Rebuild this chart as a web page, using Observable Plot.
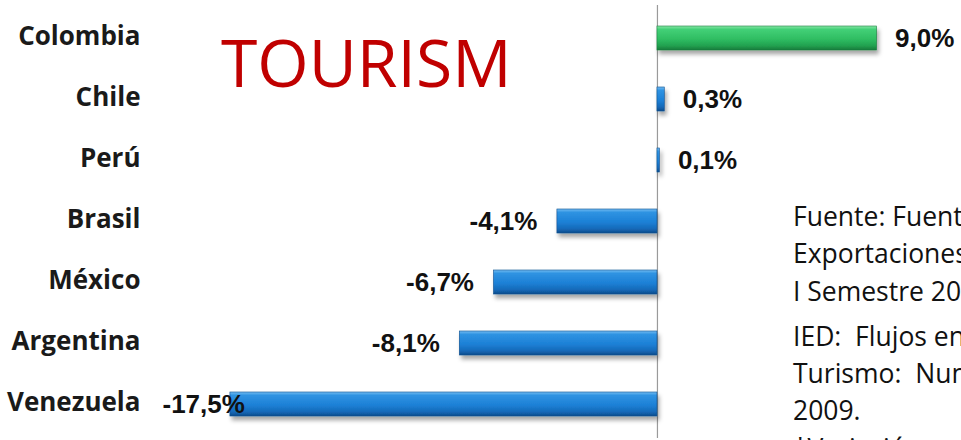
<!DOCTYPE html>
<html>
<head>
<meta charset="utf-8">
<script src="https://cdn.jsdelivr.net/npm/d3@7"></script>
<script src="https://cdn.jsdelivr.net/npm/@observablehq/plot@0.6"></script>
<style>
  html, body { margin: 0; padding: 0; background: #fff; }
  #wrap { position: relative; width: 961px; height: 440px; overflow: hidden; }
  #title { position: absolute; left: 221px; top: 28px; font-family: "Open Sans", sans-serif; font-size: 66px; line-height: 66px; color: #c00000; white-space: nowrap; }
  #notes { position: absolute; left: 793px; top: 198px; font-family: "Open Sans", sans-serif; font-size: 26.5px; line-height: 37.3px; color: #111; white-space: nowrap; }
  #notes .gap { margin-top: 8px; }
</style>
</head>
<body>
<div id="wrap">
  <div id="chart"></div>
  <div id="title">TOURISM</div>
  <div id="notes">
    <div>Fuente: Fuentes oficiales</div>
    <div>Exportaciones</div>
    <div>I Semestre 2009</div>
    <div class="gap">IED:&nbsp; Flujos entrantes</div>
    <div>Turismo:&nbsp; Numero de turistas</div>
    <div>2009.</div>
    <div>*Variación porcentual</div>
  </div>
</div>
<script>
const countries = ["Colombia", "Chile", "Perú", "Brasil", "México", "Argentina", "Venezuela"];
const values = [9.0, 0.3, 0.1, -4.1, -6.7, -8.1, -17.5];
const valueLabels = ["9,0%", "0,3%", "0,1%", "-4,1%", "-6,7%", "-8,1%", "-17,5%"];
const highlight = "Colombia";

const data = countries.map((c, i) => ({country: c, value: values[i], label: valueLabels[i]}));
const xDomain = [-20.57, 12.46];
const fitsLeft = d => d.value > -15;
const valueFont = {fontSize: 26, fontWeight: "bold", fontFamily: "'Liberation Sans', Arial, sans-serif", fill: "#111"};

const chart = Plot.plot({
  width: 961,
  height: 440,
  marginLeft: 155,
  marginRight: 0,
  marginTop: 5,
  marginBottom: 2,
  style: {fontFamily: "'Open Sans', sans-serif", background: "transparent", overflow: "visible"},
  x: {domain: xDomain, axis: null},
  y: {domain: countries, padding: 0.6, paddingOuter: 0.3, label: null},
  marks: [
    Plot.ruleX([0], {stroke: "#9a9a9a", strokeWidth: 1.2}),
    Plot.barX(data, {
      x: "value", y: "country",
      fill: d => d.country === highlight ? "url(#gGreen)" : "url(#gBlue)",
      stroke: d => d.country === highlight ? "#1b7f3f" : "#0f4f8f",
      strokeWidth: 0.6
    }),
    Plot.axisY({tickSize: 0, tickPadding: 15, fontSize: 26, fontWeight: "bold", fill: "#1a1a1a", fontFamily: "'Open Sans', sans-serif", dy: -1.5}),
    Plot.text(data.filter(d => d.value >= 0), {
      x: "value", y: "country", text: "label", textAnchor: "start", dx: 18, ...valueFont
    }),
    Plot.text(data.filter(d => d.value < 0 && fitsLeft(d)), {
      x: "value", y: "country", text: "label", textAnchor: "end", dx: -20, ...valueFont
    }),
    Plot.text(data.filter(d => d.value < 0 && !fitsLeft(d)), {
      y: "country", text: "label", frameAnchor: "left", textAnchor: "start", dx: 7, ...valueFont
    })
  ]
});

// gradient + shadow definitions for the bevelled bars
const ns = "http://www.w3.org/2000/svg";
const defs = document.createElementNS(ns, "defs");
defs.innerHTML = `
  <linearGradient id="gBlue" x1="0" y1="0" x2="0" y2="1">
    <stop offset="0" stop-color="#74bdf2"/>
    <stop offset="0.14" stop-color="#2f93e2"/>
    <stop offset="0.55" stop-color="#1c80d6"/>
    <stop offset="0.82" stop-color="#166ab9"/>
    <stop offset="1" stop-color="#0c4c8c"/>
  </linearGradient>
  <linearGradient id="gGreen" x1="0" y1="0" x2="0" y2="1">
    <stop offset="0" stop-color="#86e6a6"/>
    <stop offset="0.14" stop-color="#43d077"/>
    <stop offset="0.55" stop-color="#2fbd62"/>
    <stop offset="0.82" stop-color="#22a150"/>
    <stop offset="1" stop-color="#167a3a"/>
  </linearGradient>
  <filter id="shadow" x="-5%" y="-30%" width="115%" height="190%">
    <feDropShadow dx="2" dy="4" stdDeviation="2.2" flood-color="#000" flood-opacity="0.35"/>
  </filter>`;
chart.insertBefore(defs, chart.firstChild);
const barGroup = chart.querySelector("g[aria-label='bar']");
if (barGroup) barGroup.setAttribute("filter", "url(#shadow)");

document.getElementById("chart").appendChild(chart);
</script>
</body>
</html>
